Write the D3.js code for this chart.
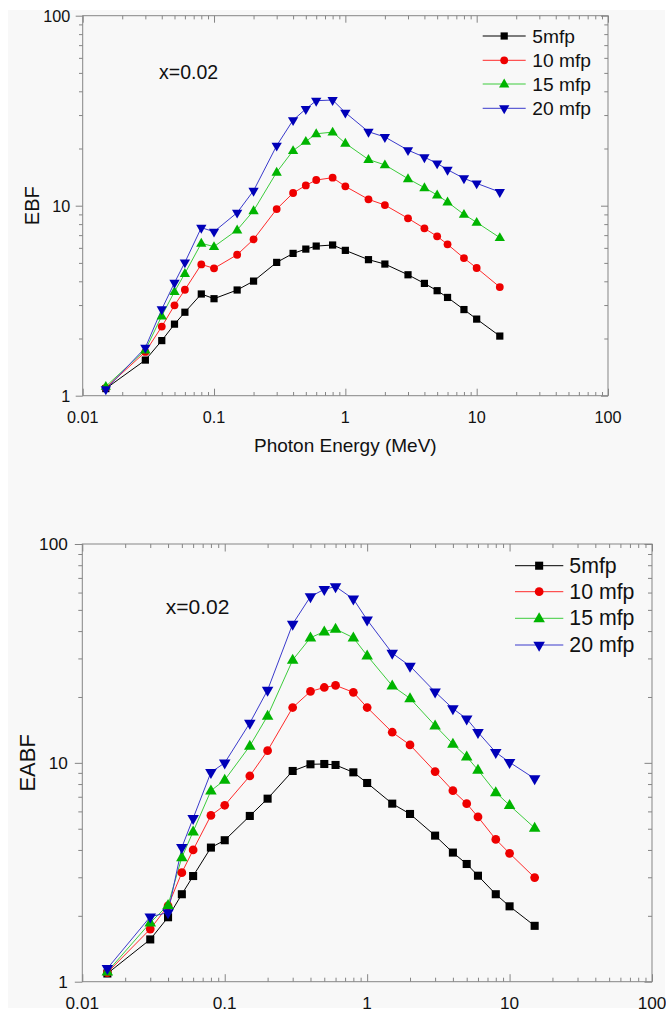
<!DOCTYPE html>
<html>
<head>
<meta charset="utf-8">
<script src="https://cdn.jsdelivr.net/npm/d3@7"></script>
<style>
  html, body { margin: 0; padding: 0; background: #ffffff; }
  svg { display: block; }
  text { font-family: "Liberation Sans", Arial, sans-serif; fill: #111; }
</style>
</head>
<body>
<svg id="chart" width="666" height="1015"></svg>
<script>
// ---------------- DATA ----------------
const energies = [0.015, 0.03, 0.04, 0.05, 0.06, 0.08, 0.1, 0.15, 0.2, 0.3, 0.4, 0.5, 0.6, 0.8, 1, 1.5, 2, 3, 4, 5, 6, 8, 10, 15];

const seriesNames = ["5mfp", "10 mfp", "15 mfp", "20 mfp"];

// EBF (top panel)
const ebf5  = [1.09, 1.54, 1.95, 2.38, 2.75, 3.43, 3.24, 3.60, 4.01, 5.03, 5.61, 5.91, 6.13, 6.21, 5.82, 5.20, 4.93, 4.33, 3.90, 3.57, 3.29, 2.84, 2.53, 2.06];
const ebf10 = [1.10, 1.70, 2.31, 2.99, 3.61, 4.91, 4.68, 5.52, 6.65, 9.60, 11.66, 12.79, 13.65, 14.04, 12.64, 10.80, 10.08, 8.58, 7.60, 6.90, 6.26, 5.30, 4.70, 3.73];
const ebf15 = [1.12, 1.74, 2.63, 3.53, 4.40, 6.34, 6.09, 7.45, 9.41, 15.0, 19.5, 21.8, 23.9, 24.4, 21.3, 17.5, 16.4, 13.87, 12.44, 11.38, 10.45, 9.00, 8.17, 6.79];
const ebf20 = [1.08, 1.79, 2.85, 3.93, 5.03, 7.66, 7.30, 9.19, 11.99, 20.7, 28.2, 32.3, 35.7, 36.0, 30.9, 24.5, 23.0, 19.6, 18.0, 16.7, 15.47, 13.93, 13.11, 11.8];

// EABF (bottom panel)
const eabf5  = [1.09, 1.56, 1.97, 2.51, 3.04, 4.10, 4.43, 5.72, 6.86, 9.18, 9.85, 9.88, 9.78, 9.05, 8.09, 6.51, 5.84, 4.65, 3.89, 3.45, 3.05, 2.51, 2.21, 1.80];
const eabf10 = [1.10, 1.74, 2.22, 3.15, 4.00, 5.75, 6.40, 8.71, 11.37, 17.9, 21.2, 22.1, 22.6, 21.0, 17.9, 13.8, 12.07, 9.12, 7.46, 6.51, 5.66, 4.47, 3.86, 2.99];
const eabf15 = [1.11, 1.86, 2.24, 3.70, 4.85, 7.46, 8.35, 11.94, 16.4, 29.5, 37.3, 39.8, 40.9, 37.3, 30.9, 22.5, 19.7, 14.8, 12.2, 10.67, 9.28, 7.33, 6.40, 5.04];
const eabf20 = [1.15, 1.98, 2.07, 4.11, 5.58, 9.05, 10.0, 15.2, 21.5, 43.1, 57.5, 62.1, 63.9, 56.1, 45.0, 31.7, 27.7, 21.1, 17.7, 15.9, 13.8, 11.17, 10.06, 8.47];

const xTickLabels = ["0.01", "0.1", "1", "10", "100"];
const yTickLabels = ["1", "10", "100"];
const annotation = "x=0.02";
const xTitle = "Photon Energy (MeV)";

// ---------------- STYLE ----------------
const styles = [
  { line: "#000000", fill: "#000000", shape: "square" },
  { line: "#ff2a2a", fill: "#ee0000", shape: "circle" },
  { line: "#3ccc3c", fill: "#00b400", shape: "up" },
  { line: "#3a3acc", fill: "#0000b8", shape: "down" }
];

const svg = d3.select("#chart");
svg.append("rect").attr("x", 8).attr("y", 10).attr("width", 657).attr("height", 998).attr("fill", "#f8f8f8");

function symbolPath(shape, scale) {
  if (shape === "square") return d3.symbol(d3.symbolSquare, 52 * scale * scale)();
  if (shape === "circle") return d3.symbol(d3.symbolCircle, 48 * scale * scale)();
  return d3.symbol(d3.symbolTriangle, 46 * scale * scale)();
}

function drawMarker(g, shape, cx, cy, color, scale) {
  const p = g.append("path")
    .attr("d", symbolPath(shape, scale))
    .attr("fill", color);
  if (shape === "down") p.attr("transform", `translate(${cx},${cy}) rotate(180)`);
  else if (shape === "up") p.attr("transform", `translate(${cx},${cy + 0.5})`);
  else p.attr("transform", `translate(${cx},${cy})`);
}

function panel(cfg, data) {
  const g = svg.append("g");
  const x = d3.scaleLog().domain([0.01, 100]).range([cfg.left, cfg.right]);
  const y = d3.scaleLog().domain([1, 100]).range([cfg.bottom, cfg.top]);
  const isMajor = v => Math.abs(Math.log10(v) - Math.round(Math.log10(v))) < 1e-9;
  const xAll = x.ticks(), yAll = y.ticks();
  const xMaj = xAll.filter(isMajor), xMin = xAll.filter(v => !isMajor(v));
  const yMaj = yAll.filter(isMajor), yMin = yAll.filter(v => !isMajor(v));
  const axisColor = "#858585";

  function addAxis(axisFn, scale, vals, size, transform) {
    const a = g.append("g").attr("transform", transform)
      .call(axisFn(scale).tickValues(vals).tickSize(size).tickSizeOuter(0).tickFormat(""));
    a.select(".domain").remove();
    a.selectAll("line").attr("stroke", axisColor).attr("stroke-width", 1);
  }
  // bottom (inward)
  addAxis(d3.axisBottom, x, xMaj, -cfg.maj, `translate(0,${cfg.bottom})`);
  addAxis(d3.axisBottom, x, xMin, -cfg.min, `translate(0,${cfg.bottom})`);
  // top (inward)
  addAxis(d3.axisTop, x, xMaj, -cfg.maj, `translate(0,${cfg.top})`);
  addAxis(d3.axisTop, x, xMin, -cfg.min, `translate(0,${cfg.top})`);
  // left (outward)
  addAxis(d3.axisLeft, y, yMaj, cfg.maj, `translate(${cfg.left},0)`);
  addAxis(d3.axisLeft, y, yMin, cfg.min, `translate(${cfg.left},0)`);
  // right (inward)
  addAxis(d3.axisRight, y, yMaj, -cfg.maj, `translate(${cfg.right},0)`);
  addAxis(d3.axisRight, y, yMin, -cfg.min, `translate(${cfg.right},0)`);

  // frame
  g.append("rect")
    .attr("x", cfg.left).attr("y", cfg.top)
    .attr("width", cfg.right - cfg.left).attr("height", cfg.bottom - cfg.top)
    .attr("fill", "none").attr("stroke", axisColor).attr("stroke-width", 1);

  // tick labels
  g.selectAll(".xl").data(xMaj).enter().append("text")
    .attr("x", d => x(d)).attr("y", cfg.bottom + cfg.xLabOff)
    .attr("text-anchor", "middle").attr("dominant-baseline", "central")
    .style("font-size", cfg.tickFont + "px")
    .text((d, i) => xTickLabels[i]);
  g.selectAll(".yl").data(yMaj).enter().append("text")
    .attr("x", cfg.left - cfg.yLabOff).attr("y", d => y(d))
    .attr("text-anchor", "end").attr("dominant-baseline", "central")
    .style("font-size", cfg.tickFont + "px")
    .text((d, i) => yTickLabels[i]);

  // axis titles
  g.append("text")
    .attr("transform", `translate(${cfg.yTitleX},${(cfg.top + cfg.bottom) / 2}) rotate(-90)`)
    .attr("text-anchor", "middle").attr("dominant-baseline", "central")
    .style("font-size", cfg.yTitleFont + "px")
    .text(cfg.yTitle);
  if (cfg.showXTitle) {
    g.append("text")
      .attr("x", (cfg.left + cfg.right) / 2).attr("y", cfg.xTitleY)
      .attr("text-anchor", "middle").attr("dominant-baseline", "central")
      .style("font-size", cfg.titleFont + "px")
      .text(xTitle);
  }

  // annotation
  g.append("text").attr("x", cfg.annX).attr("y", cfg.annY)
    .attr("dominant-baseline", "central")
    .style("font-size", cfg.annFont + "px").text(annotation);

  // series
  const line = d3.line().x(d => x(d[0])).y(d => y(d[1]));
  data.forEach((vals, si) => {
    const pts = energies.map((e, i) => [e, vals[i]]);
    g.append("path").datum(pts).attr("d", line)
      .attr("fill", "none").attr("stroke", styles[si].line).attr("stroke-width", 1);
  });
  data.forEach((vals, si) => {
    energies.forEach((e, i) => {
      drawMarker(g, styles[si].shape, x(e), y(vals[i]), styles[si].fill, cfg.mScale);
    });
  });

  // legend
  seriesNames.forEach((name, i) => {
    const ly = cfg.legY[i];
    g.append("line").attr("x1", cfg.legX1).attr("x2", cfg.legX2).attr("y1", ly).attr("y2", ly)
      .attr("stroke", styles[i].line).attr("stroke-width", 1);
    drawMarker(g, styles[i].shape, (cfg.legX1 + cfg.legX2) / 2, ly, styles[i].fill, cfg.mScale);
    g.append("text").attr("x", cfg.legText).attr("y", ly)
      .attr("dominant-baseline", "central")
      .style("font-size", cfg.legFont + "px").text(name);
  });
}

panel({
  left: 82.7, right: 608, top: 15.7, bottom: 395.7,
  maj: 7, min: 3.7,
  tickFont: 16.2, xLabOff: 21, yLabOff: 12.5,
  titleFont: 19, yTitleFont: 20, yTitle: "EBF", yTitleX: 32, showXTitle: true, xTitleY: 445,
  annX: 159, annY: 72, annFont: 19.5,
  mScale: 1,
  legX1: 482.7, legX2: 525.7, legText: 532.3, legY: [36, 60.3, 84, 108.3], legFont: 19.2
}, [ebf5, ebf10, ebf15, ebf20]);

panel({
  left: 82.3, right: 652, top: 544, bottom: 981.7,
  maj: 7.5, min: 4,
  tickFont: 17.2, xLabOff: 21.5, yLabOff: 14.5,
  titleFont: 21.5, yTitleFont: 22, yTitle: "EABF", yTitleX: 27, showXTitle: false, xTitleY: 0,
  annX: 165.7, annY: 606.7, annFont: 21,
  mScale: 1.12,
  legX1: 515, legX2: 563.3, legText: 569.3, legY: [565.7, 591.7, 618.3, 645], legFont: 21.3
}, [eabf5, eabf10, eabf15, eabf20]);
</script>
</body>
</html>
